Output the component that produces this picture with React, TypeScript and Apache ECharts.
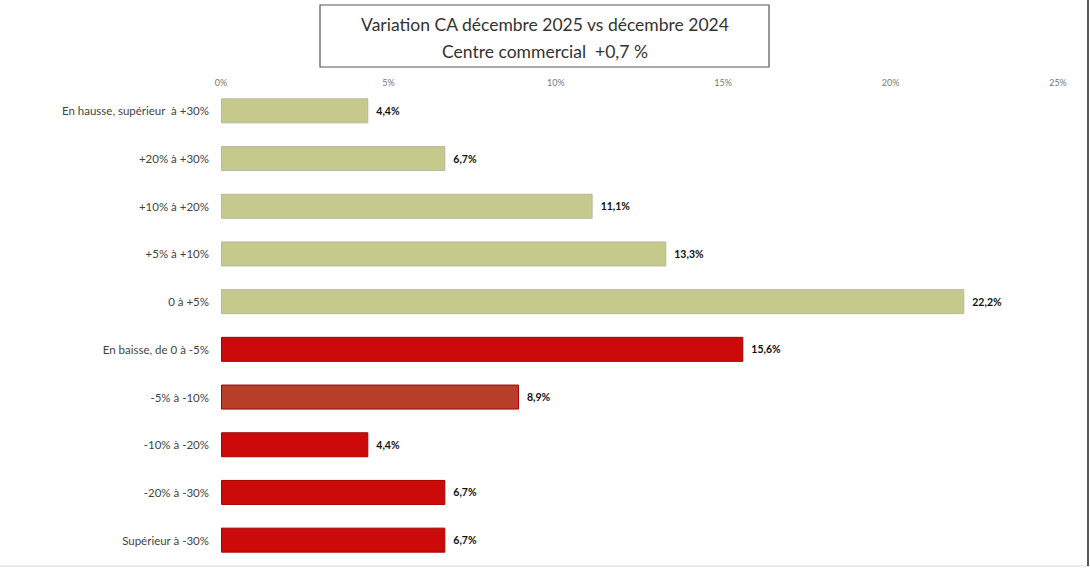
import React, { useEffect, useRef } from "react";
import * as echarts from "echarts";

const categories = [
  "En hausse, supérieur  à +30%",
  "+20% à +30%",
  "+10% à +20%",
  "+5% à +10%",
  "0 à +5%",
  "En baisse, de 0 à -5%",
  "-5% à -10%",
  "-10% à -20%",
  "-20% à -30%",
  "Supérieur à -30%",
];
const values = [4.4, 6.7, 11.1, 13.3, 22.2, 15.6, 8.9, 4.4, 6.7, 6.7];
const barColors = [
  "#c5c98c", "#c5c98c", "#c5c98c", "#c5c98c", "#c5c98c",
  "#cc0a0a", "#b8402a", "#cc0a0a", "#cc0a0a", "#cc0a0a",
];
const titleLine1 = "Variation CA décembre 2025 vs décembre 2024";
const titleLine2 = "Centre commercial  +0,7 %";

export default function App() {
  const ref = useRef<HTMLDivElement>(null);
  useEffect(() => {
    if (!ref.current) return;
    const chart = echarts.init(ref.current, null, { renderer: "svg" });
    chart.setOption({
      animation: false,
      backgroundColor: "#ffffff",
      grid: { left: 221, right: 32, top: 87, height: 477, containLabel: false },
      xAxis: {
        type: "value",
        position: "top",
        min: 0,
        max: 25,
        interval: 5,
        axisLabel: {
          formatter: (v: number) => v + "%",
          color: "#777",
          fontSize: 9,
          fontFamily: "Lato",
          margin: 0,
        },
        axisLine: { show: false },
        axisTick: { show: false },
        splitLine: { show: false },
      },
      yAxis: {
        type: "category",
        inverse: true,
        data: categories,
        axisLabel: {
          color: "#444",
          fontSize: 11.5,
          fontFamily: "Lato",
          margin: 12,
        },
        axisLine: { show: false },
        axisTick: { show: false },
      },
      series: [
        {
          type: "bar",
          barWidth: 25,
          data: values.map((v, i) => ({
            value: v,
            itemStyle: { color: barColors[i], borderColor: i < 5 ? "#b8b8a0" : "#a80000", borderWidth: 1 },
          })),
          label: {
            show: true,
            position: "right",
            distance: 8,
            formatter: (p: any) => String(p.value).replace(".", ",") + "%",
            color: "#111",
            fontWeight: "bold",
            fontSize: 10.5,
            fontFamily: "Lato",
          },
        },
      ],
      graphic: [
        {
          type: "rect",
          shape: { x: 320, y: 5, width: 449, height: 62 },
          style: { fill: "#ffffff", stroke: "#555", lineWidth: 1.2 },
        },
        {
          type: "text",
          x: 545,
          y: 24,
          style: {
            text: titleLine1,
            fill: "#333",
            font: "17.5px Lato",
            textAlign: "center",
            textVerticalAlign: "middle",
          },
        },
        {
          type: "text",
          x: 545,
          y: 51,
          style: {
            text: titleLine2,
            fill: "#333",
            font: "17.5px Lato",
            textAlign: "center",
            textVerticalAlign: "middle",
          },
        },
        {
          type: "line",
          shape: { x1: 0, y1: 566, x2: 1090, y2: 566 },
          style: { stroke: "#d8d8d8", lineWidth: 1 },
        },
        {
          type: "line",
          shape: { x1: 1088, y1: 0, x2: 1088, y2: 566 },
          style: { stroke: "#222", lineWidth: 1.5 },
        },
      ],
    });
    return () => chart.dispose();
  }, []);
  return (
    <div
      ref={ref}
      style={{ width: 1090, height: 569, position: "absolute", left: 0, top: 0 }}
    />
  );
}
